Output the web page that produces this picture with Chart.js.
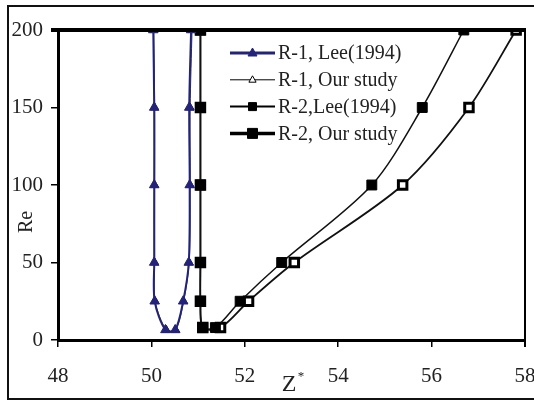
<!DOCTYPE html>
<html>
<head>
<meta charset="utf-8">
<script src="https://cdn.jsdelivr.net/npm/chart.js@4.4.1/dist/chart.umd.min.js"></script>
<style>
  html, body { margin: 0; padding: 0; background: #fff; }
  #wrap { position: relative; width: 534px; height: 401px; }
</style>
</head>
<body>
<div id="wrap"><canvas id="chart"></canvas></div>
<script>
// Re values shared by the U-shaped curves
const r1Re = [200, 150, 100, 50, 25, 6.5, 6.5, 25, 50, 100, 150, 200]
const r2Re = [200, 150, 100, 50, 25, 8, 8, 25, 50, 100, 150, 200]

// Z* values
const r1LeeZ = [50.04, 50.06, 50.06, 50.06, 50.07, 50.30, 50.51, 50.68, 50.80, 50.82, 50.81, 50.85]
const r1OurZ = [50.05, 50.07, 50.07, 50.07, 50.08, 50.32, 50.52, 50.69, 50.81, 50.83, 50.83, 50.87]
const r2LeeZ = [51.05, 51.05, 51.05, 51.05, 51.05, 51.10, 51.37, 51.90, 52.79, 54.72, 55.80, 56.69]
const r2OurZ = [51.05, 51.05, 51.05, 51.05, 51.05, 51.10, 51.48, 52.08, 53.06, 55.38, 56.80, 57.81]

const seriesNames = ['R-1, Lee(1994)', 'R-1, Our study', 'R-2,Lee(1994)', 'R-2, Our study']
const xTicks = [48, 50, 52, 54, 56, 58]
const yTicks = [0, 50, 100, 150, 200]

const navy = '#23237a'
const serif = '"Liberation Serif", "DejaVu Serif", serif'

function points(zs, res) {
  return zs.map((z, i) => ({x: z, y: res[i]}))
}

// legend look for each series: line width, marker kind, marker size, fill
const legendStyles = [
  {color: navy, width: 3, marker: 'tri', size: 5, fill: navy},
  {color: '#000', width: 1, marker: 'tri', size: 4, fill: '#fff'},
  {color: '#000', width: 2, marker: 'sq', size: 4, fill: '#000'},
  {color: '#000', width: 3.5, marker: 'sq', size: 5, fill: '#000'}
]

const framePlugin = {
  id: 'frame',
  beforeDraw(chart) {
    const ctx = chart.ctx
    ctx.save()
    ctx.fillStyle = '#fff'
    ctx.fillRect(0, 0, chart.width, chart.height)
    ctx.strokeStyle = '#111'
    ctx.lineWidth = 2
    ctx.beginPath()
    ctx.moveTo(540, 6)
    ctx.lineTo(8, 6)
    ctx.lineTo(8, 399)
    ctx.lineTo(540, 399)
    ctx.stroke()
    ctx.restore()
  },
  afterDatasetsDraw(chart) {
    // top and right edges of the plot box
    const {ctx, chartArea} = chart
    ctx.save()
    ctx.strokeStyle = '#000'
    ctx.lineWidth = 4
    ctx.beginPath()
    ctx.moveTo(chartArea.left - 7, chartArea.top)
    ctx.lineTo(chartArea.right + 1, chartArea.top)
    ctx.stroke()
    ctx.lineWidth = 2
    ctx.beginPath()
    ctx.moveTo(chartArea.right, chartArea.top)
    ctx.lineTo(chartArea.right, chartArea.bottom + 7)
    ctx.stroke()
    ctx.restore()
  },
  afterDraw(chart) {
    const ctx = chart.ctx
    ctx.save()
    ctx.fillStyle = '#222'
    // axis titles
    ctx.font = '20px ' + serif
    ctx.textAlign = 'center'
    ctx.textBaseline = 'middle'
    ctx.save()
    ctx.translate(27, 222)
    ctx.rotate(-Math.PI / 2)
    ctx.fillText('Re', 0, 0)
    ctx.restore()
    ctx.font = '24px ' + serif
    ctx.fillText('Z', 289, 385)
    ctx.font = '13px ' + serif
    ctx.fillText('*', 301, 377)

    // legend
    const x0 = 230, x1 = 275, top = 53, step = 26.8
    ctx.font = '20px ' + serif
    ctx.textAlign = 'left'
    seriesNames.forEach((name, i) => {
      const s = legendStyles[i]
      const y = top + i * step
      ctx.strokeStyle = s.color
      ctx.lineWidth = s.width
      ctx.beginPath()
      ctx.moveTo(x0, y)
      ctx.lineTo(x1, y)
      ctx.stroke()
      const cx = (x0 + x1) / 2
      ctx.fillStyle = s.fill
      ctx.strokeStyle = s.color
      ctx.lineWidth = 1
      ctx.beginPath()
      if (s.marker === 'tri') {
        ctx.moveTo(cx, y - s.size)
        ctx.lineTo(cx + s.size * 0.9, y + s.size * 0.6)
        ctx.lineTo(cx - s.size * 0.9, y + s.size * 0.6)
        ctx.closePath()
      } else {
        ctx.rect(cx - s.size, y - s.size, s.size * 2, s.size * 2)
      }
      ctx.fill()
      ctx.stroke()
      ctx.fillStyle = '#222'
      ctx.fillText(name, 278, y + 1)
    })
    ctx.restore()
  }
}

const tickFont = {family: serif, size: 21}

const config = {
  type: 'scatter',
  data: {
    datasets: [
      {
        label: seriesNames[0],
        data: points(r1LeeZ, r1Re),
        showLine: true,
        borderColor: navy,
        borderWidth: 2,
        pointStyle: 'triangle',
        pointRadius: 5.5,
        pointBackgroundColor: navy,
        pointBorderColor: navy,
        pointBorderWidth: 1,
        tension: 0.3
      },
      {
        label: seriesNames[1],
        data: points(r1OurZ, r1Re),
        showLine: true,
        borderColor: '#333',
        borderWidth: 1,
        pointStyle: 'triangle',
        pointRadius: 4.5,
        pointBackgroundColor: '#fff',
        pointBorderColor: '#000',
        pointBorderWidth: 1,
        tension: 0.3
      },
      {
        label: seriesNames[2],
        data: points(r2LeeZ, r2Re),
        showLine: true,
        borderColor: '#111',
        borderWidth: 1.5,
        pointStyle: 'rect',
        pointRadius: 7,
        pointBackgroundColor: '#000',
        pointBorderColor: '#000',
        pointBorderWidth: 1,
        tension: 0.3
      },
      {
        label: seriesNames[3],
        data: points(r2OurZ, r2Re),
        showLine: true,
        borderColor: '#111',
        borderWidth: 1.8,
        pointStyle: 'rect',
        pointRadius: 6,
        pointBackgroundColor: '#fff',
        pointBorderColor: '#000',
        pointBorderWidth: 3,
        tension: 0.3
      }
    ]
  },
  options: {
    responsive: true,
    maintainAspectRatio: false,
    animation: false,
    layout: {
      autoPadding: false,
      padding: {left: 0, right: 9, top: 30, bottom: 0}
    },
    plugins: {
      legend: {display: false},
      tooltip: {enabled: false}
    },
    scales: {
      x: {
        type: 'linear',
        min: 48,
        max: 58,
        afterBuildTicks: (scale) => {
          scale.ticks = xTicks.map(v => ({value: v}))
        },
        afterFit: (scale) => {
          scale.height = 61
          scale.paddingLeft = 0
          scale.paddingRight = 0
        },
        ticks: {
          font: tickFont,
          color: '#222',
          padding: 17,
          maxRotation: 0
        },
        grid: {
          drawOnChartArea: false,
          drawTicks: true,
          tickLength: 7,
          color: '#000',
          lineWidth: 1.5
        },
        border: {
          color: '#000',
          width: 3
        }
      },
      y: {
        type: 'linear',
        min: 0,
        max: 200,
        afterBuildTicks: (scale) => {
          scale.ticks = yTicks.map(v => ({value: v}))
        },
        afterFit: (scale) => {
          scale.width = 58
          scale.paddingTop = 0
          scale.paddingBottom = 0
        },
        ticks: {
          font: tickFont,
          color: '#222',
          padding: 8
        },
        grid: {
          drawOnChartArea: false,
          drawTicks: true,
          tickLength: 7,
          color: '#000',
          lineWidth: 1.5
        },
        border: {
          color: '#000',
          width: 3
        }
      }
    }
  },
  plugins: [framePlugin]
}

const chart = new Chart(document.getElementById('chart'), config)
</script>
</body>
</html>
